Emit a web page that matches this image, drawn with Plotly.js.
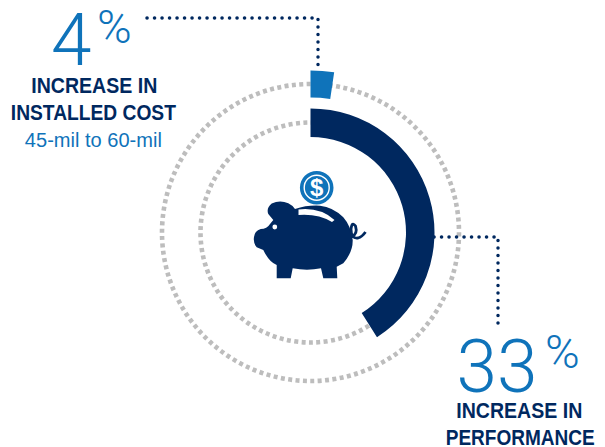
<!DOCTYPE html>
<html>
<head>
<meta charset="utf-8">
<script src="https://cdn.plot.ly/plotly-3.0.1.min.js"></script>
<style>html,body{margin:0;padding:0;background:#fff}#chart{width:605px;height:447px}</style>
</head>
<body>
<div id="chart"></div>
<script>
// Headline values and the full-circle span each gauge is drawn against
const costIncrease = 4;
const costGaugeSpan = 171.4;
const performanceIncrease = 33;
const performanceGaugeSpan = 80.5;

const costLines = ['INCREASE IN', 'INSTALLED COST'];
const costDetail = '45-mil to 60-mil';
const performanceLines = ['INCREASE IN', 'PERFORMANCE'];

const NAVY = '#00285f';
const BLUE = '#0f73ba';
const GREY = '#bdbdbd';
const W = 605, H = 447, CX = 310.5, CY = 232.5;

function gauge(value, span, outer, inner, color) {
  return {
    type: 'pie',
    values: [value, span - value],
    marker: {colors: [color, 'rgba(0,0,0,0)'], line: {width: 0}},
    sort: false, direction: 'clockwise', rotation: 0,
    hole: inner / outer, textinfo: 'none', hoverinfo: 'skip', showlegend: false,
    domain: {
      x: [(CX - outer) / W, (CX + outer) / W],
      y: [1 - (CY + outer) / H, 1 - (CY - outer) / H]
    }
  };
}

function leader(xs, ys) {
  return {
    type: 'scatter', mode: 'lines', x: xs, y: ys, hoverinfo: 'skip', showlegend: false,
    line: {color: NAVY, width: 3.5, dash: '0.1px,7.4px'}
  };
}

const traces = [
  leader([147, 318, 318], [18, 18, 70]),
  leader([434, 498, 498], [237, 237, 327]),
  gauge(performanceIncrease, performanceGaugeSpan, 124, 95.5, NAVY),
  gauge(costIncrease, costGaugeSpan, 162, 135, BLUE)
];

function ring(r) {
  return {
    type: 'circle', xref: 'x', yref: 'y', layer: 'below',
    x0: CX - r, x1: CX + r, y0: CY - r, y1: CY + r,
    line: {color: GREY, width: 4.6, dash: '4px,3.4px'}
  };
}

function disc(x, y, r, color) {
  return {
    type: 'circle', xref: 'x', yref: 'y', layer: 'above',
    x0: x - r, x1: x + r, y0: y - r, y1: y + r,
    fillcolor: color, line: {width: 0}
  };
}

function icon(d, fill, stroke) {
  return {
    type: 'path', xref: 'x', yref: 'y', layer: 'above', path: d,
    fillcolor: fill || 'rgba(0,0,0,0)',
    line: stroke ? {color: stroke, width: 2.8} : {width: 0}
  };
}

// Piggy bank silhouette, coin slot, eye and curled tail
const pigBody = 'M268.3,214 Q266,208 271.7,203.5 Q280,199.5 288.3,203.3 Q292,205 295,209 ' +
  'Q307,205 320,205.7 Q333,207 343.3,217.3 Q351,226 352.7,240 Q353,252 343.3,263.3 L336.7,266.7 ' +
  'L337.3,278.3 L323.3,278.3 L321,268.3 Q307,271 292.7,268.3 L290.7,278.3 L276.7,278.3 L276.7,265 ' +
  'Q269,262 263.3,250 L256.7,247.3 Q253,243 254,237 Q254.5,231 260.7,229 Q267,229 270,224 L273.3,220 Z';
const pigSlot = 'M298.5,209.5 Q320,207 334.5,220 L332,222 Q318,213.5 298.5,215 Z';
const pigTail = 'M351.5,237 Q358,234 355.5,226 Q352,221 351,229 Q351,239 358,238 Q362,237 365.5,232';

const shapes = [
  ring(148.5), ring(110),
  icon(pigBody, NAVY), icon(pigSlot, '#ffffff'), icon(pigTail, null, NAVY),
  disc(274.8, 227, 2.4, '#ffffff'),
  disc(316.7, 187.7, 16.8, BLUE), disc(316.7, 187.7, 13.2, '#ffffff'), disc(316.7, 187.7, 11.8, BLUE)
];

const DISPLAY = 'Roboto, Arial, sans-serif';
const CAPTION = '"Liberation Sans", sans-serif';

function label(text, x, y, font) {
  return {
    text, x, y, xref: 'x', yref: 'y', showarrow: false,
    xanchor: 'center', yanchor: 'middle', font
  };
}

const bold = {family: CAPTION, size: 21.5, color: NAVY, weight: 700};
const annotations = [
  label(String(costIncrease), 71.5, 40, {family: DISPLAY, size: 73, color: BLUE, weight: 300}),
  label('%', 114, 26, {family: DISPLAY, size: 47, color: BLUE, weight: 300}),
  label(costLines[0], 94, 85.5, bold),
  label(costLines[1], 93.5, 112.5, bold),
  label(costDetail, 93.5, 140, {family: CAPTION, size: 20, color: BLUE}),
  label(String(performanceIncrease), 496.5, 366, {family: DISPLAY, size: 74, color: BLUE, weight: 300}),
  label('%', 562.5, 351, {family: DISPLAY, size: 47, color: BLUE, weight: 300}),
  label(performanceLines[0], 519.5, 411, bold),
  label(performanceLines[1], 519.5, 437.5, bold),
  label('$', 316.7, 187.7, {family: CAPTION, size: 24, color: '#ffffff', weight: 700})
];

// Rendered widths of the condensed captions and the wide display digits
const setWidths = [[costLines[0], 126], [costLines[1], 165], [costDetail, 137],
                   [performanceLines[1], 149], [String(performanceIncrease), 81]];

const layout = {
  width: W, height: H, margin: {l: 0, r: 0, t: 0, b: 0},
  paper_bgcolor: '#ffffff', plot_bgcolor: '#ffffff', showlegend: false,
  xaxis: {range: [0, W], visible: false, fixedrange: true},
  yaxis: {range: [H, 0], visible: false, fixedrange: true},
  shapes, annotations
};

Plotly.newPlot('chart', traces, layout, {displayModeBar: false, staticPlot: true}).then(gd => {
  gd.querySelectorAll('.scatterlayer .js-line').forEach(p => { p.style.strokeLinecap = 'round'; });
  gd.querySelectorAll('.annotation-text').forEach(t => {
    const hit = setWidths.find(w => w[0] === t.textContent);
    if (hit) {
      t.setAttribute('textLength', hit[1]);
      t.setAttribute('lengthAdjust', 'spacingAndGlyphs');
    }
  });
});
</script>
</body>
</html>
